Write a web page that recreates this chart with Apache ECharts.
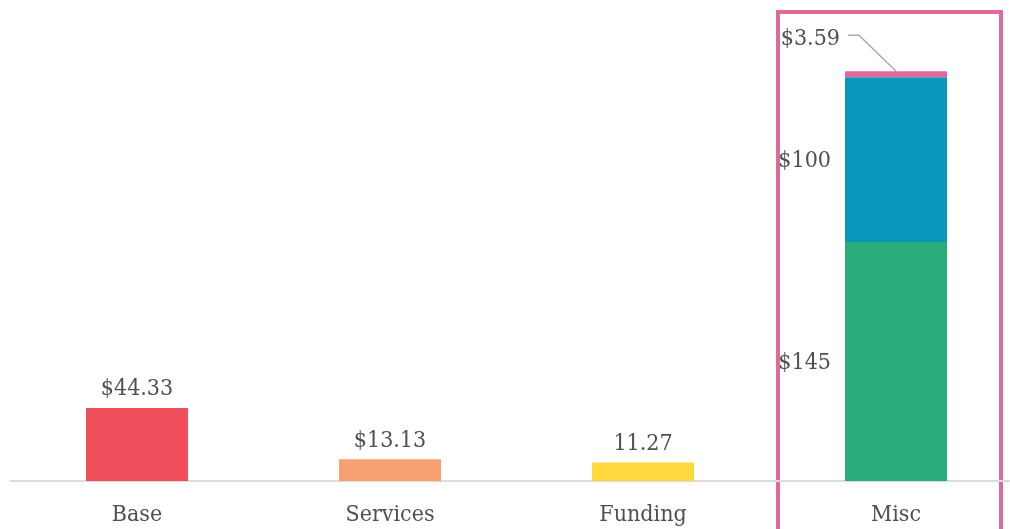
<!DOCTYPE html>
<html>
<head>
<meta charset="utf-8">
<script src="https://cdn.jsdelivr.net/npm/echarts@6/dist/echarts.min.js"></script>
<style>
  html, body { margin: 0; padding: 0; background: #fff; }
  #chart { width: 1010px; height: 529px; }
</style>
</head>
<body>
<div id="chart"></div>
<script>
const categories = ['Base', 'Services', 'Funding', 'Misc']
// single bars
const baseValues = [44.33, 13.13, 11.27, null]
const baseLabels = ['$44.33', '$13.13', '11.27', '']
const baseColors = ['#ef4f5b', '#f7a173', '#ffd83d', null]
// stacked Misc parts, bottom to top
const miscGreen = [null, null, null, 145]
const miscBlue = [null, null, null, 100]
const miscPink = [null, null, null, 3.59]
const miscLabels = ['$145', '$100', '$3.59']

const font = "'DejaVu Serif Condensed', 'DejaVu Serif', serif"
const textColor = '#505050'
const fontSize = 23

const chart = echarts.init(document.getElementById('chart'))

function sideLabel(text, extra) {
  return Object.assign({
    show: true,
    position: 'left',
    distance: 14,
    formatter: text,
    fontFamily: font,
    fontSize: fontSize,
    color: textColor,
  }, extra || {})
}

chart.setOption({
  animation: false,
  grid: { left: 10.5, width: 1012, top: 19.5, bottom: 48, outerBoundsMode: 'none', containLabel: false },
  xAxis: {
    type: 'category',
    data: categories,
    axisLine: { lineStyle: { color: '#dcdcdc', width: 2 } },
    axisTick: { show: false },
    axisLabel: { fontFamily: font, fontSize: fontSize, color: textColor, margin: 23 },
  },
  yAxis: {
    type: 'value',
    min: 0,
    max: 280,
    show: false,
    splitLine: { show: false },
  },
  series: [
    {
      type: 'bar',
      barWidth: 102,
      data: baseValues.map((v, i) => v == null ? null : {
        value: v,
        itemStyle: { color: baseColors[i] },
      }),
      label: {
        show: true,
        position: 'top',
        distance: 7,
        formatter: p => baseLabels[p.dataIndex],
        fontFamily: font,
        fontSize: fontSize,
        color: textColor,
      },
    },
    {
      type: 'bar',
      stack: 'misc',
      barWidth: 102,
      barGap: '-100%',
      data: miscGreen,
      itemStyle: { color: '#2aad7a' },
      label: sideLabel(miscLabels[0], { offset: [0, 2] }),
    },
    {
      type: 'bar',
      stack: 'misc',
      barWidth: 102,
      data: miscBlue,
      itemStyle: { color: '#0898bb' },
      label: sideLabel(miscLabels[1], { offset: [0, 1] }),
    },
    {
      type: 'bar',
      stack: 'misc',
      barWidth: 102,
      data: miscPink,
      itemStyle: { color: '#e2699a' },
      label: sideLabel(miscLabels[2], { distance: 5, offset: [0, -35] }),
    },
  ],
})

// highlight box and leader line around the Misc column
const miscBottom = chart.convertToPixel({ seriesIndex: 3 }, [3, 0])
const miscTop = chart.convertToPixel({ seriesIndex: 3 }, [3, 145 + 100 + 3.59])
chart.setOption({
  graphic: [
    {
      type: 'rect',
      shape: { x: miscBottom[0] - 118, y: 12, width: 223, height: 540 },
      style: { fill: 'none', stroke: '#e0699a', lineWidth: 4 },
      silent: true,
    },
    {
      type: 'polyline',
      shape: { points: [[miscTop[0] - 48, miscTop[1] - 36], [miscTop[0] - 37, miscTop[1] - 36], [miscTop[0], miscTop[1]]] },
      style: { fill: 'none', stroke: '#aaa', lineWidth: 1.5 },
      silent: true,
    },
  ],
})
</script>
</body>
</html>
